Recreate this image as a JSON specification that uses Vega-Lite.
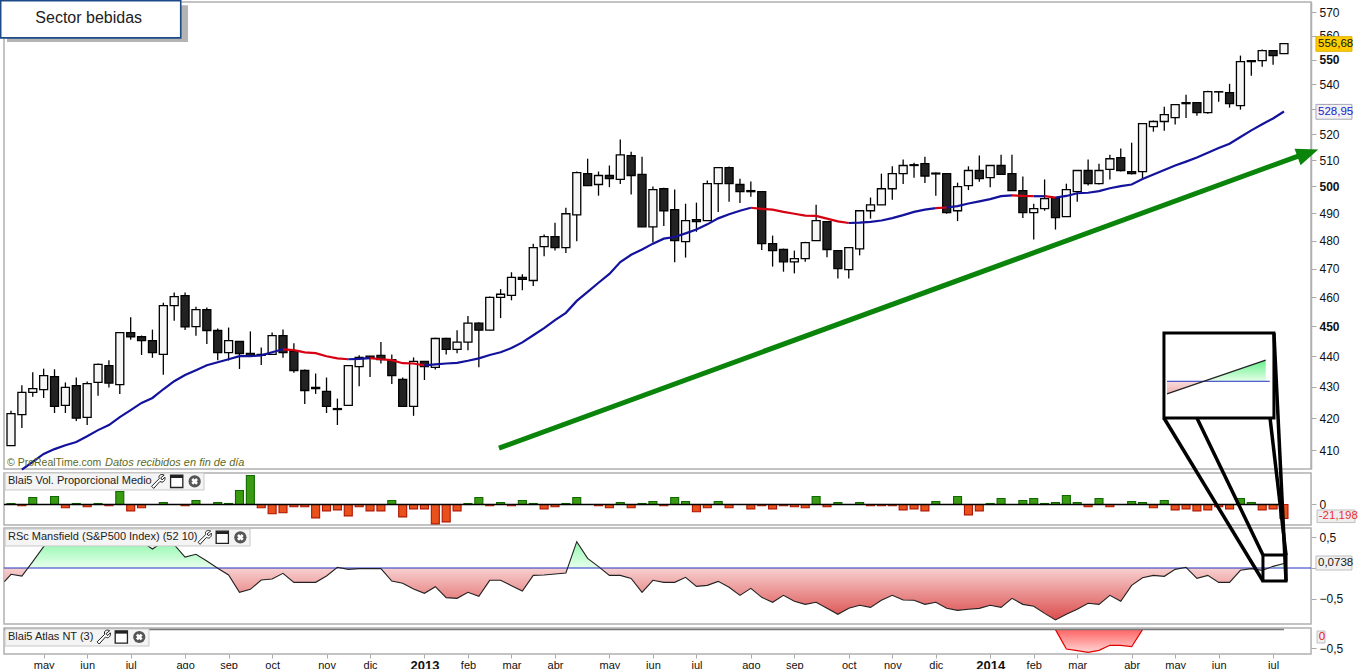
{"$schema":"https://vega.github.io/schema/vega-lite/v6.json","width":1359,"height":669,"padding":0,"autosize":"none","background":"white","config":{"font":"Liberation Sans","view":{"stroke":null}},
"datasets":{
"c":[{"i":0,"o":411.4,"h":422.3,"l":411.4,"c":421.4},{"i":1,"o":421.1,"h":430.5,"l":416.9,"c":428.2},{"i":2,"o":428.2,"h":434.7,"l":426.8,"c":429.4},{"i":3,"o":429.1,"h":435.9,"l":426.4,"c":433.6},{"i":4,"o":433.3,"h":435.7,"l":421.6,"c":423.7},{"i":5,"o":424,"h":431.4,"l":421.6,"c":429.8},{"i":6,"o":430.4,"h":433,"l":419.1,"c":420},{"i":7,"o":420.2,"h":431.7,"l":417.8,"c":431},{"i":8,"o":431.4,"h":437.6,"l":427.1,"c":437.3},{"i":9,"o":436.9,"h":438.7,"l":429.8,"c":431.2},{"i":10,"o":430.7,"h":447.9,"l":427.7,"c":447.9},{"i":11,"o":447.9,"h":453.1,"l":445.5,"c":446.5},{"i":12,"o":446.5,"h":446.9,"l":440.4,"c":445.2},{"i":13,"o":445.2,"h":448.9,"l":439.5,"c":441.2},{"i":14,"o":440.6,"h":458.1,"l":433.9,"c":457.1},{"i":15,"o":457.1,"h":461.6,"l":451.9,"c":460.2},{"i":16,"o":460.5,"h":461.6,"l":448.8,"c":449.8},{"i":17,"o":449.9,"h":456.7,"l":446.8,"c":455.7},{"i":18,"o":455.7,"h":456.4,"l":444.1,"c":448.6},{"i":19,"o":448.6,"h":449.3,"l":438.7,"c":441.2},{"i":20,"o":441.2,"h":449.6,"l":438.6,"c":445.2},{"i":21,"o":444.9,"h":444.9,"l":435.8,"c":440.9},{"i":22,"o":440.9,"h":448.3,"l":440.1,"c":440.1},{"i":23,"o":440.6,"h":442.9,"l":437.1,"c":440.3},{"i":24,"o":440.6,"h":447.9,"l":440.6,"c":446.9},{"i":25,"o":446.9,"h":448.9,"l":439.5,"c":441.2},{"i":26,"o":441.6,"h":444.3,"l":434.6,"c":435.3},{"i":27,"o":435.3,"h":435.6,"l":424.5,"c":428.8},{"i":28,"o":429.8,"h":434.3,"l":427.7,"c":429.4},{"i":29,"o":428.5,"h":433,"l":421.6,"c":423.7},{"i":30,"o":423,"h":426.2,"l":417.8,"c":422.7},{"i":31,"o":424,"h":436.9,"l":424,"c":436.9},{"i":32,"o":436.6,"h":440.3,"l":430.2,"c":439.6},{"i":33,"o":440,"h":440.1,"l":433.2,"c":439.3},{"i":34,"o":440.3,"h":444.7,"l":437.6,"c":438.9},{"i":35,"o":438.9,"h":440.6,"l":430.9,"c":433.6},{"i":36,"o":432.4,"h":433,"l":423.7,"c":423.7},{"i":37,"o":423.7,"h":439.6,"l":420.7,"c":438.3},{"i":38,"o":438.3,"h":438.3,"l":432.2,"c":436.6},{"i":39,"o":436.3,"h":446.2,"l":435.6,"c":445.9},{"i":40,"o":445.9,"h":446.2,"l":440.6,"c":442.3},{"i":41,"o":442.3,"h":448.7,"l":441,"c":444.7},{"i":42,"o":444.7,"h":453.5,"l":442,"c":451.1},{"i":43,"o":451.1,"h":451.4,"l":436.4,"c":448.7},{"i":44,"o":448.7,"h":460.2,"l":448.7,"c":459.9},{"i":45,"o":459.9,"h":462.8,"l":452.8,"c":461},{"i":46,"o":460.6,"h":468.7,"l":458.9,"c":466.9},{"i":47,"o":466.9,"h":468,"l":462.4,"c":466.2},{"i":48,"o":465.8,"h":478.9,"l":463.9,"c":477.5},{"i":49,"o":477.8,"h":482.2,"l":474.4,"c":481.4},{"i":50,"o":481.4,"h":486.5,"l":476.4,"c":477.5},{"i":51,"o":477.5,"h":492,"l":475.5,"c":489.8},{"i":52,"o":489.4,"h":505.6,"l":479.8,"c":505.2},{"i":53,"o":504.8,"h":510.5,"l":500.3,"c":500.3},{"i":54,"o":500.7,"h":505.6,"l":496.5,"c":504.1},{"i":55,"o":504.1,"h":507.9,"l":499.7,"c":502.9},{"i":56,"o":502.6,"h":517.9,"l":500.9,"c":512},{"i":57,"o":511.7,"h":513.2,"l":496.9,"c":504.1},{"i":58,"o":504.5,"h":511.3,"l":485,"c":485},{"i":59,"o":485,"h":499.9,"l":479.3,"c":498.8},{"i":60,"o":499.1,"h":499.5,"l":485.3,"c":490.9},{"i":61,"o":491.3,"h":498.8,"l":472.2,"c":480},{"i":62,"o":479.6,"h":493.5,"l":473.9,"c":487.3},{"i":63,"o":487.6,"h":493.9,"l":483.2,"c":486.9},{"i":64,"o":487.3,"h":502.2,"l":487.3,"c":501},{"i":65,"o":501,"h":507.1,"l":490.4,"c":507.1},{"i":66,"o":507.1,"h":507.5,"l":494.2,"c":501},{"i":67,"o":500.7,"h":502.9,"l":493.8,"c":498},{"i":68,"o":498.4,"h":501.8,"l":496.1,"c":498},{"i":69,"o":498,"h":498,"l":476.6,"c":478.9},{"i":70,"o":478.9,"h":481.8,"l":470.7,"c":476.4},{"i":71,"o":476.8,"h":477.1,"l":468.9,"c":472.4},{"i":72,"o":472.4,"h":476.4,"l":468.3,"c":473.5},{"i":73,"o":473.5,"h":479.6,"l":472.4,"c":479.3},{"i":74,"o":480,"h":493.1,"l":480,"c":487.3},{"i":75,"o":486.9,"h":486.9,"l":474,"c":476.8},{"i":76,"o":476.4,"h":476.4,"l":466.5,"c":470},{"i":77,"o":469.6,"h":477.5,"l":466.5,"c":477.5},{"i":78,"o":477,"h":490.9,"l":474.7,"c":490.9},{"i":79,"o":490.9,"h":495.8,"l":488,"c":493.1},{"i":80,"o":493.1,"h":504.8,"l":493.1,"c":499.1},{"i":81,"o":499.1,"h":507.6,"l":495,"c":504.8},{"i":82,"o":504.8,"h":510.2,"l":500.9,"c":507.9},{"i":83,"o":508.2,"h":509,"l":503.2,"c":507.9},{"i":84,"o":508.6,"h":511.3,"l":501.3,"c":503.9},{"i":85,"o":505,"h":505.2,"l":496.5,"c":504.7},{"i":86,"o":504.8,"h":504.9,"l":489.8,"c":490.2},{"i":87,"o":490.9,"h":501.4,"l":487.1,"c":499.9},{"i":88,"o":500.3,"h":507.6,"l":498.6,"c":506},{"i":89,"o":506,"h":511.7,"l":501.7,"c":502.9},{"i":90,"o":503.3,"h":507.9,"l":499.7,"c":507.9},{"i":91,"o":507.9,"h":512,"l":504.5,"c":504.5},{"i":92,"o":504.8,"h":512,"l":498.4,"c":498.4},{"i":93,"o":498.4,"h":503.7,"l":488.2,"c":490.2},{"i":94,"o":490.2,"h":493.5,"l":480.4,"c":491.7},{"i":95,"o":491.7,"h":502.6,"l":490.9,"c":495.4},{"i":96,"o":495.8,"h":495.8,"l":484,"c":488.4},{"i":97,"o":488.7,"h":501,"l":488.7,"c":498.8},{"i":98,"o":498,"h":506,"l":494.2,"c":506},{"i":99,"o":506,"h":510.2,"l":500.3,"c":501},{"i":100,"o":501,"h":508.6,"l":500.7,"c":506},{"i":101,"o":506.4,"h":512,"l":502.6,"c":510.5},{"i":102,"o":510.9,"h":514.4,"l":505.6,"c":506},{"i":103,"o":505.6,"h":516.7,"l":504.5,"c":504.8},{"i":104,"o":505.6,"h":524.2,"l":502.9,"c":524.2},{"i":105,"o":523,"h":525.4,"l":521,"c":525},{"i":106,"o":525,"h":530.9,"l":521.4,"c":527.7},{"i":107,"o":526.5,"h":531.7,"l":523.8,"c":531.7},{"i":108,"o":532.5,"h":535.7,"l":526.4,"c":532.1},{"i":109,"o":532.5,"h":532.5,"l":527.3,"c":528.5},{"i":110,"o":528.5,"h":537.3,"l":528.1,"c":536.9},{"i":111,"o":536.9,"h":536.9,"l":532.9,"c":536.8},{"i":112,"o":536.5,"h":540.1,"l":530.5,"c":532.1},{"i":113,"o":531.3,"h":551.7,"l":529.7,"c":549.2},{"i":114,"o":549.6,"h":549.6,"l":543.4,"c":549.2},{"i":115,"o":549.6,"h":554.2,"l":547.1,"c":553.8},{"i":116,"o":553.8,"h":553.8,"l":547.9,"c":551.7},{"i":117,"o":552.5,"h":556.68,"l":552.5,"c":556.68}],
"ma":[{"i":1,"v":404,"d":"u","s":0},{"i":2,"v":406.4,"d":"u","s":0},{"i":3,"v":408.8,"d":"u","s":0},{"i":4,"v":410.3,"d":"u","s":0},{"i":5,"v":411.5,"d":"u","s":0},{"i":6,"v":412.5,"d":"u","s":0},{"i":7,"v":414.3,"d":"u","s":0},{"i":8,"v":416.2,"d":"u","s":0},{"i":9,"v":417.8,"d":"u","s":0},{"i":10,"v":420.3,"d":"u","s":0},{"i":11,"v":422.5,"d":"u","s":0},{"i":12,"v":424.8,"d":"u","s":0},{"i":13,"v":426.4,"d":"u","s":0},{"i":14,"v":429.2,"d":"u","s":0},{"i":15,"v":431.8,"d":"u","s":0},{"i":16,"v":433.8,"d":"u","s":0},{"i":17,"v":435.4,"d":"u","s":0},{"i":18,"v":437,"d":"u","s":0},{"i":19,"v":438,"d":"u","s":0},{"i":20,"v":439,"d":"u","s":0},{"i":21,"v":440,"d":"u","s":0},{"i":22,"v":440,"d":"u","s":0},{"i":23,"v":440.3,"d":"u","s":0},{"i":24,"v":441.3,"d":"u","s":0},{"i":25,"v":442.3,"d":"u","s":0},
{"i":25,"v":442.3,"d":"d","s":1},{"i":26,"v":442,"d":"d","s":1},{"i":27,"v":441.3,"d":"d","s":1},{"i":28,"v":441,"d":"d","s":1},{"i":29,"v":440,"d":"d","s":1},{"i":30,"v":439.3,"d":"d","s":1},{"i":31,"v":439,"d":"d","s":1},
{"i":31,"v":439,"d":"u","s":2},{"i":32,"v":439.1,"d":"u","s":2},{"i":33,"v":439.4,"d":"u","s":2},
{"i":33,"v":439.4,"d":"d","s":3},{"i":34,"v":439,"d":"d","s":3},{"i":35,"v":438.7,"d":"d","s":3},{"i":36,"v":437.7,"d":"d","s":3},{"i":37,"v":437.6,"d":"d","s":3},{"i":38,"v":437,"d":"d","s":3},
{"i":38,"v":437,"d":"u","s":4},{"i":39,"v":437.3,"d":"u","s":4},{"i":40,"v":437.6,"d":"u","s":4},{"i":41,"v":437.8,"d":"u","s":4},{"i":42,"v":438.5,"d":"u","s":4},{"i":43,"v":439.3,"d":"u","s":4},{"i":44,"v":440.4,"d":"u","s":4},{"i":45,"v":441.3,"d":"u","s":4},{"i":46,"v":442.7,"d":"u","s":4},{"i":47,"v":444.6,"d":"u","s":4},{"i":48,"v":447,"d":"u","s":4},{"i":49,"v":449.4,"d":"u","s":4},{"i":50,"v":452.1,"d":"u","s":4},{"i":51,"v":454.6,"d":"u","s":4},{"i":52,"v":458.7,"d":"u","s":4},{"i":53,"v":461.8,"d":"u","s":4},{"i":54,"v":465,"d":"u","s":4},{"i":55,"v":468.1,"d":"u","s":4},{"i":56,"v":472.3,"d":"u","s":4},{"i":57,"v":474.9,"d":"u","s":4},{"i":58,"v":476.8,"d":"u","s":4},{"i":59,"v":478.9,"d":"u","s":4},{"i":60,"v":480.7,"d":"u","s":4},{"i":61,"v":481.3,"d":"u","s":4},{"i":62,"v":482.6,"d":"u","s":4},{"i":63,"v":484,"d":"u","s":4},{"i":64,"v":485.9,"d":"u","s":4},{"i":65,"v":488.1,"d":"u","s":4},{"i":66,"v":489.6,"d":"u","s":4},{"i":67,"v":490.9,"d":"u","s":4},{"i":68,"v":492,"d":"u","s":4},
{"i":68,"v":492,"d":"d","s":5},{"i":69,"v":491.6,"d":"d","s":5},{"i":70,"v":491.3,"d":"d","s":5},{"i":71,"v":490.5,"d":"d","s":5},{"i":72,"v":489.8,"d":"d","s":5},{"i":73,"v":489.1,"d":"d","s":5},{"i":74,"v":489,"d":"d","s":5},{"i":75,"v":488,"d":"d","s":5},{"i":76,"v":487,"d":"d","s":5},{"i":77,"v":486.4,"d":"d","s":5},
{"i":77,"v":486.4,"d":"u","s":6},{"i":78,"v":486.5,"d":"u","s":6},{"i":79,"v":486.8,"d":"u","s":6},{"i":80,"v":487.3,"d":"u","s":6},{"i":81,"v":488.2,"d":"u","s":6},{"i":82,"v":489.3,"d":"u","s":6},{"i":83,"v":490.5,"d":"u","s":6},{"i":84,"v":491.3,"d":"u","s":6},{"i":85,"v":491.9,"d":"u","s":6},
{"i":85,"v":491.9,"d":"d","s":7},{"i":86,"v":492.1,"d":"d","s":7},
{"i":86,"v":492.1,"d":"u","s":8},{"i":87,"v":492.6,"d":"u","s":8},{"i":88,"v":493.6,"d":"u","s":8},{"i":89,"v":494.4,"d":"u","s":8},{"i":90,"v":495.2,"d":"u","s":8},{"i":91,"v":496.3,"d":"u","s":8},{"i":92,"v":496.6,"d":"u","s":8},
{"i":92,"v":496.6,"d":"d","s":9},{"i":93,"v":496.4,"d":"d","s":9},{"i":94,"v":496.3,"d":"d","s":9},
{"i":94,"v":496.3,"d":"u","s":10},{"i":95,"v":496.3,"d":"u","s":10},
{"i":95,"v":496.3,"d":"d","s":11},{"i":96,"v":495.8,"d":"d","s":11},
{"i":96,"v":495.8,"d":"u","s":12},{"i":97,"v":496.4,"d":"u","s":12},{"i":98,"v":497.4,"d":"u","s":12},{"i":99,"v":497.6,"d":"u","s":12},{"i":100,"v":498.2,"d":"u","s":12},{"i":101,"v":499.3,"d":"u","s":12},{"i":102,"v":500.1,"d":"u","s":12},{"i":103,"v":500.7,"d":"u","s":12},{"i":104,"v":502.8,"d":"u","s":12},{"i":105,"v":504.5,"d":"u","s":12},{"i":106,"v":506.2,"d":"u","s":12},{"i":107,"v":507.9,"d":"u","s":12},{"i":108,"v":509.4,"d":"u","s":12},{"i":109,"v":511,"d":"u","s":12},{"i":110,"v":512.8,"d":"u","s":12},{"i":111,"v":514.6,"d":"u","s":12},{"i":112,"v":516.3,"d":"u","s":12},{"i":113,"v":518.9,"d":"u","s":12},{"i":114,"v":521.5,"d":"u","s":12},{"i":115,"v":523.9,"d":"u","s":12},{"i":116,"v":526.2,"d":"u","s":12},{"i":117,"v":528.95,"d":"u","s":12}],
"vol":[{"i":0,"v":1.5},{"i":1,"v":-2},{"i":2,"v":10.6},{"i":4,"v":12.1},{"i":5,"v":-5},{"i":6,"v":1.5},{"i":7,"v":-3.5},{"i":8,"v":1.5},{"i":9,"v":-2},{"i":10,"v":19.7},{"i":11,"v":-9.6},{"i":12,"v":-5},{"i":14,"v":3},{"i":16,"v":-2},{"i":17,"v":6},{"i":19,"v":3},{"i":20,"v":1.5},{"i":21,"v":21.2},{"i":22,"v":44},{"i":23,"v":-5},{"i":24,"v":-14.1},{"i":25,"v":-12.6},{"i":26,"v":-3.5},{"i":27,"v":-3.5},{"i":28,"v":-20.2},{"i":29,"v":-9.6},{"i":30,"v":-8.1},{"i":31,"v":-17.2},{"i":32,"v":-3.5},{"i":33,"v":-9.6},{"i":34,"v":-9.6},{"i":35,"v":6},{"i":36,"v":-18.7},{"i":37,"v":-6.6},{"i":38,"v":-6.6},{"i":39,"v":-29.3},{"i":40,"v":-26.3},{"i":41,"v":-9.6},{"i":42,"v":1.5},{"i":43,"v":10.6},{"i":44,"v":-2},{"i":45,"v":3},{"i":46,"v":-2},{"i":47,"v":6},{"i":48,"v":1.5},{"i":49,"v":-6.6},{"i":50,"v":-3.5},{"i":51,"v":1.5},{"i":52,"v":10.6},{"i":54,"v":-2},{"i":55,"v":-5},{"i":56,"v":3},{"i":57,"v":-5},{"i":58,"v":1.5},{"i":59,"v":4.5},{"i":60,"v":-2},{"i":61,"v":10.6},{"i":62,"v":4.5},{"i":63,"v":-11.1},{"i":64,"v":-5},{"i":65,"v":4.5},{"i":66,"v":-5},{"i":68,"v":-6.6},{"i":69,"v":-2},{"i":70,"v":-6.6},{"i":71,"v":-2},{"i":72,"v":-3.5},{"i":73,"v":-5},{"i":74,"v":12.1},{"i":75,"v":-3.5},{"i":76,"v":3},{"i":78,"v":3},{"i":79,"v":-2},{"i":80,"v":-2},{"i":81,"v":-2},{"i":82,"v":-8.1},{"i":83,"v":-6.6},{"i":84,"v":-9.6},{"i":85,"v":4.5},{"i":87,"v":12.1},{"i":88,"v":-15.7},{"i":89,"v":-9.6},{"i":90,"v":1.5},{"i":91,"v":9.1},{"i":93,"v":6},{"i":94,"v":9.1},{"i":95,"v":1.5},{"i":96,"v":3},{"i":97,"v":13.6},{"i":98,"v":3},{"i":99,"v":-3.5},{"i":100,"v":9.1},{"i":101,"v":-3.5},{"i":103,"v":4.5},{"i":104,"v":3},{"i":105,"v":-5},{"i":106,"v":6},{"i":107,"v":-8.1},{"i":108,"v":-6.6},{"i":109,"v":-9.6},{"i":110,"v":-8.1},{"i":111,"v":-3.5},{"i":112,"v":-6.6},{"i":113,"v":9.1},{"i":114,"v":3},{"i":115,"v":-8.1},{"i":116,"v":-6.6},{"i":117,"v":-21.198}],
"rs":[{"i":-0.6,"v":-0.223},{"i":0,"v":-0.103},{"i":1,"v":-0.131},{"i":2,"v":0.103},{"i":3,"v":0.348},{"i":4,"v":0.55},{"i":5,"v":0.6},{"i":6,"v":0.6},{"i":7,"v":0.62},{"i":8,"v":0.58},{"i":9,"v":0.6},{"i":10,"v":0.62},{"i":11,"v":0.58},{"i":12,"v":0.43},{"i":13,"v":0.31},{"i":14,"v":0.43},{"i":15,"v":0.38},{"i":16,"v":0.179},{"i":17,"v":0.223},{"i":18,"v":0.114},{"i":19,"v":-0.005},{"i":20,"v":-0.114},{"i":21,"v":-0.397},{"i":22,"v":-0.348},{"i":23,"v":-0.196},{"i":24,"v":-0.179},{"i":25,"v":-0.087},{"i":26,"v":-0.234},{"i":27,"v":-0.234},{"i":28,"v":-0.234},{"i":29,"v":-0.131},{"i":30,"v":0.011},{"i":31,"v":-0.022},{"i":32,"v":-0.011},{"i":33,"v":-0.011},{"i":34,"v":-0.011},{"i":35,"v":-0.212},{"i":36,"v":-0.25},{"i":37,"v":-0.343},{"i":38,"v":-0.413},{"i":39,"v":-0.305},{"i":40,"v":-0.484},{"i":41,"v":-0.495},{"i":42,"v":-0.397},{"i":43,"v":-0.462},{"i":44,"v":-0.201},{"i":45,"v":-0.201},{"i":46,"v":-0.288},{"i":47,"v":-0.375},{"i":48,"v":-0.12},{"i":49,"v":-0.114},{"i":50,"v":-0.098},{"i":51,"v":-0.082},{"i":52,"v":0.43},{"i":53,"v":0.158},{"i":54,"v":0.022},{"i":55,"v":-0.12},{"i":56,"v":-0.12},{"i":57,"v":-0.169},{"i":58,"v":-0.397},{"i":59,"v":-0.201},{"i":60,"v":-0.234},{"i":61,"v":-0.234},{"i":62,"v":-0.152},{"i":63,"v":-0.299},{"i":64,"v":-0.283},{"i":65,"v":-0.218},{"i":66,"v":-0.315},{"i":67,"v":-0.446},{"i":68,"v":-0.332},{"i":69,"v":-0.479},{"i":70,"v":-0.56},{"i":71,"v":-0.446},{"i":72,"v":-0.544},{"i":73,"v":-0.593},{"i":74,"v":-0.56},{"i":75,"v":-0.658},{"i":76,"v":-0.756},{"i":77,"v":-0.658},{"i":78,"v":-0.609},{"i":79,"v":-0.642},{"i":80,"v":-0.527},{"i":81,"v":-0.446},{"i":82,"v":-0.522},{"i":83,"v":-0.527},{"i":84,"v":-0.593},{"i":85,"v":-0.56},{"i":86,"v":-0.658},{"i":87,"v":-0.691},{"i":88,"v":-0.674},{"i":89,"v":-0.658},{"i":90,"v":-0.609},{"i":91,"v":-0.642},{"i":92,"v":-0.495},{"i":93,"v":-0.593},{"i":94,"v":-0.625},{"i":95,"v":-0.74},{"i":96,"v":-0.848},{"i":97,"v":-0.756},{"i":98,"v":-0.674},{"i":99,"v":-0.576},{"i":100,"v":-0.593},{"i":101,"v":-0.446},{"i":102,"v":-0.544},{"i":103,"v":-0.283},{"i":104,"v":-0.158},{"i":105,"v":-0.12},{"i":106,"v":-0.136},{"i":107,"v":-0.022},{"i":108,"v":0.011},{"i":109,"v":-0.169},{"i":110,"v":-0.12},{"i":111,"v":-0.234},{"i":112,"v":-0.234},{"i":113,"v":-0.038},{"i":114,"v":-0.011},{"i":115,"v":-0.038},{"i":116,"v":0.027},{"i":117,"v":0.0738}],
"atlas":[{"i":96,"v":0},{"i":97,"v":-0.524},{"i":98,"v":-0.57},{"i":99,"v":-0.613},{"i":100,"v":-0.56},{"i":101,"v":-0.424},{"i":102,"v":-0.424},{"i":103,"v":-0.462},{"i":104,"v":0}]
},
"layer":[
{"layer":[
{"data":{"values":[{"a":-0.643,"b":119.49,"p":404.2,"q":574.4}]},"mark":{"type":"rect","fillOpacity":0,"stroke":"#b0b0b0","strokeWidth":1.5},"encoding":{"x":{"field":"a","type":"quantitative","scale":{"domain":[-1.011,123.897],"nice":false,"zero":false,"padding":0},"axis":{"values":[3,7,11,16,20,24,29,33,38,42,46,50,55,59,63,68,72,77,81,85,90,94,98,103,107,111,116],"labelExpr":"{3:'may',7:'jun',11:'jul',16:'ago',20:'sep',24:'oct',29:'nov',33:'dic',38:'2013',42:'feb',46:'mar',50:'abr',55:'may',59:'jun',63:'jul',68:'ago',72:'sep',77:'oct',81:'nov',85:'dic',90:'2014',94:'feb',98:'mar',103:'abr',107:'may',111:'jun',116:'jul'}[datum.value]","labelFontWeight":{"condition":{"test":"datum.value==38||datum.value==90","value":"bold"},"value":"normal"},"labelFontSize":{"condition":{"test":"datum.value==38||datum.value==90","value":13},"value":11},"orient":"bottom","offset":-15,"domain":false,"grid":false,"title":null,"tickColor":"#aaaaaa","tickSize":4,"labelPadding":1,"labelColor":"#111111","labelOverlap":false,"labelFlush":false}},"x2":{"field":"b"},"y":{"field":"p","type":"quantitative","scale":{"type":"log","domain":[404.2,574.4],"range":[469,2],"nice":false,"zero":false},"axis":{"orient":"right","offset":-48,"values":[410,420,430,440,450,460,470,480,490,500,510,520,530,540,550,560,570],"title":null,"grid":false,"domainColor":"#b0b0b0","domainWidth":1.5,"tickColor":"#aaaaaa","tickSize":5,"labelPadding":3,"labelFontSize":12,"labelColor":"#111111","labelOverlap":false,"labelFlush":false,"format":"d","labelFontWeight":{"condition":{"test":"datum.value==450||datum.value==500||datum.value==550","value":"bold"},"value":"normal"}}},"y2":{"field":"q"}}},
{"data":{"name":"c"},"mark":{"type":"rule","color":"#000000","strokeWidth":1.3},"encoding":{"x":{"field":"i","type":"quantitative"},"y":{"field":"l","type":"quantitative","scale":{"type":"log"}},"y2":{"field":"h"}}},
{"data":{"name":"c"},"mark":{"type":"bar","size":8,"stroke":"#000000","strokeWidth":1.3},"encoding":{"x":{"field":"i","type":"quantitative"},"y":{"field":"o","type":"quantitative","scale":{"type":"log"}},"y2":{"field":"c"},"fill":{"condition":{"test":"datum.c>datum.o","value":"#f6f6f6"},"value":"#222222"}}},
{"data":{"name":"ma"},"mark":{"type":"line","strokeWidth":2.2,"clip":false},"encoding":{"x":{"field":"i","type":"quantitative"},"y":{"field":"v","type":"quantitative","scale":{"type":"log"}},"detail":{"field":"s"},"order":{"field":"i"},"color":{"field":"d","type":"nominal","scale":{"domain":["u","d"],"range":["#12129c","#d60012"]},"legend":null}}},
{"data":{"values":[{"a":44.85,"p":410.6,"b":118.5,"q":511.8}]},"mark":{"type":"rule","color":"#0a840a","strokeWidth":5},"encoding":{"x":{"field":"a","type":"quantitative"},"y":{"field":"p","type":"quantitative","scale":{"type":"log"}},"x2":{"field":"b"},"y2":{"field":"q"}}},
{"data":{"values":[{"i":119.2,"v":512.6}]},"mark":{"type":"point","shape":"M0,-1L0.8,1L-0.8,1Z","size":484,"angle":70,"filled":true,"fill":"#0a840a","opacity":1},"encoding":{"x":{"field":"i","type":"quantitative"},"y":{"field":"v","type":"quantitative","scale":{"type":"log"}}}},
{"data":{"values":[{"i":-0.37,"v":406,"t":"© ProRealTime.com"}]},"mark":{"type":"text","align":"left","baseline":"middle","fontSize":10.5,"fill":"#5c6a1c"},"encoding":{"x":{"field":"i","type":"quantitative"},"y":{"field":"v","type":"quantitative","scale":{"type":"log"}},"text":{"field":"t"}}},
{"data":{"values":[{"i":8.64,"v":406,"t":"Datos recibidos en fin de día"}]},"mark":{"type":"text","align":"left","baseline":"middle","fontSize":11,"fontStyle":"italic","fill":"#5c6a1c"},"encoding":{"x":{"field":"i","type":"quantitative"},"y":{"field":"v","type":"quantitative","scale":{"type":"log"}},"text":{"field":"t"}}},
{"data":{"values":[{"a":-0.37,"b":16.27,"p":557.4,"q":573}]},"mark":{"type":"rect","fill":"#777777","opacity":0.55},"encoding":{"x":{"field":"a","type":"quantitative"},"x2":{"field":"b"},"y":{"field":"p","type":"quantitative","scale":{"type":"log"}},"y2":{"field":"q"}}},
{"data":{"values":[{"a":-0.95,"b":15.6,"p":559.1,"q":575}]},"mark":{"type":"rect","fill":"#ffffff","stroke":"#1c4a86","strokeWidth":1.6},"encoding":{"x":{"field":"a","type":"quantitative"},"x2":{"field":"b"},"y":{"field":"p","type":"quantitative","scale":{"type":"log"}},"y2":{"field":"q"}}},
{"data":{"values":[{"i":7.14,"v":567.4,"t":"Sector bebidas"}]},"mark":{"type":"text","align":"center","baseline":"middle","fontSize":16,"fill":"#222222"},"encoding":{"x":{"field":"i","type":"quantitative"},"y":{"field":"v","type":"quantitative","scale":{"type":"log"}},"text":{"field":"t"}}},
{"data":{"values":[{"a":119.94,"b":123.25,"p":553.5,"q":559.6}]},"mark":{"type":"rect","fill":"#ffcc00","stroke":"#e0b000"},"encoding":{"x":{"field":"a","type":"quantitative"},"x2":{"field":"b"},"y":{"field":"p","type":"quantitative","scale":{"type":"log"}},"y2":{"field":"q"}}},
{"data":{"values":[{"i":120.13,"v":556.68,"t":"556,68"}]},"mark":{"type":"text","align":"left","baseline":"middle","fontSize":11.5,"fill":"#111111"},"encoding":{"x":{"field":"i","type":"quantitative"},"y":{"field":"v","type":"quantitative","scale":{"type":"log"}},"text":{"field":"t"}}},
{"data":{"values":[{"a":119.94,"b":123.25,"p":525.9,"q":531.8}]},"mark":{"type":"rect","fill":"#f2f2f2","stroke":"#a8a8b8"},"encoding":{"x":{"field":"a","type":"quantitative"},"x2":{"field":"b"},"y":{"field":"p","type":"quantitative","scale":{"type":"log"}},"y2":{"field":"q"}}},
{"data":{"values":[{"i":120.13,"v":528.95,"t":"528,95"}]},"mark":{"type":"text","align":"left","baseline":"middle","fontSize":11.5,"fill":"#2222cc"},"encoding":{"x":{"field":"i","type":"quantitative"},"y":{"field":"v","type":"quantitative","scale":{"type":"log"}},"text":{"field":"t"}}}
]},
{"layer":[
{"data":{"values":[{"a":-0.643,"b":119.49,"p":-31.06,"q":47.7}]},"mark":{"type":"rect","fillOpacity":0,"stroke":"#b0b0b0","strokeWidth":1.5},"encoding":{"x":{"field":"a","type":"quantitative"},"x2":{"field":"b"},"y":{"field":"p","type":"quantitative","scale":{"domain":[-31.06,47.7],"range":[525,473],"nice":false,"zero":false},"axis":{"orient":"right","offset":-48,"values":[0],"title":null,"grid":false,"domain":false,"tickColor":"#aaaaaa","tickSize":5,"labelPadding":3,"labelFontSize":12,"labelColor":"#111111","labelFlush":false}},"y2":{"field":"q"}}},
{"data":{"name":"vol"},"mark":{"type":"bar","size":8,"strokeWidth":1.1},"encoding":{"x":{"field":"i","type":"quantitative"},"y":{"field":"v","type":"quantitative"},"y2":{"datum":0},"fill":{"condition":{"test":"datum.v>0","value":"#3a9a12"},"value":"#e8501c"},"stroke":{"condition":{"test":"datum.v>0","value":"#0e6a00"},"value":"#b01400"}}},
{"data":{"values":[{"a":-0.643,"b":117}]},"mark":{"type":"rule","color":"#000000","strokeWidth":1.4},"encoding":{"x":{"field":"a","type":"quantitative"},"x2":{"field":"b"},"y":{"datum":0,"type":"quantitative"}}},
{"data":{"values":[{"a":-0.55,"b":17.74,"p":22,"q":47.7}]},"mark":{"type":"rect","fill":"#f4f4f4","stroke":"#c8c8c8"},"encoding":{"x":{"field":"a","type":"quantitative"},"x2":{"field":"b"},"y":{"field":"p","type":"quantitative"},"y2":{"field":"q"}}},
{"data":{"values":[{"i":-0.276,"v":35,"t":"Blai5 Vol. Proporcional Medio"}]},"mark":{"type":"text","align":"left","baseline":"middle","fontSize":11,"fill":"#222222"},"encoding":{"x":{"field":"i","type":"quantitative"},"y":{"field":"v","type":"quantitative"},"text":{"field":"t"}}},
{"data":{"values":[{"i":13.5,"v":35}]},"mark":{"type":"point","shape":"M-0.9,0.7L0.2,-0.4C0,-0.9 0.5,-1.1 0.9,-0.9L0.4,-0.5L0.6,-0.2L1,-0.6C1.1,-0.1 0.7,0.3 0.3,0L-0.6,1Z","size":196,"filled":true,"fill":"#ffffff","stroke":"#222222","strokeWidth":1,"opacity":1},"encoding":{"x":{"field":"i","type":"quantitative"},"y":{"field":"v","type":"quantitative"}}},
{"data":{"values":[{"i":15.23,"v":35}]},"mark":{"type":"point","shape":"square","size":150,"filled":true,"fill":"#ffffff","stroke":"#222222","strokeWidth":1.3,"opacity":1},"encoding":{"x":{"field":"i","type":"quantitative"},"y":{"field":"v","type":"quantitative"}}},
{"data":{"values":[{"i":15.23,"v":35}]},"mark":{"type":"point","shape":"M-1,-1H1V-0.55H-1Z","size":150,"filled":true,"fill":"#222222","opacity":1},"encoding":{"x":{"field":"i","type":"quantitative"},"y":{"field":"v","type":"quantitative"}}},
{"data":{"values":[{"i":16.88,"v":35}]},"mark":{"type":"point","shape":"circle","size":150,"filled":true,"fill":"#555555","opacity":1},"encoding":{"x":{"field":"i","type":"quantitative"},"y":{"field":"v","type":"quantitative"}}},
{"data":{"values":[{"i":16.88,"v":35}]},"mark":{"type":"point","shape":"cross","size":45,"angle":45,"filled":true,"fill":"#ffffff","opacity":1},"encoding":{"x":{"field":"i","type":"quantitative"},"y":{"field":"v","type":"quantitative"}}},
{"data":{"values":[{"a":120.04,"b":123.53,"p":-27.4,"q":-8.3}]},"mark":{"type":"rect","fill":"#eeeeee","stroke":"#c0c0c0"},"encoding":{"x":{"field":"a","type":"quantitative"},"x2":{"field":"b"},"y":{"field":"p","type":"quantitative"},"y2":{"field":"q"}}},
{"data":{"values":[{"i":120.2,"v":-17.4,"t":"-21,198"}]},"mark":{"type":"text","align":"left","baseline":"middle","fontSize":11.5,"fill":"#ee3030"},"encoding":{"x":{"field":"i","type":"quantitative"},"y":{"field":"v","type":"quantitative"},"text":{"field":"t"}}}
]},
{"layer":[
{"data":{"values":[{"a":-0.643,"b":119.49,"p":-0.9135,"q":0.6525}]},"mark":{"type":"rect","fillOpacity":0,"stroke":"#b0b0b0","strokeWidth":1.5},"encoding":{"x":{"field":"a","type":"quantitative"},"x2":{"field":"b"},"y":{"field":"p","type":"quantitative","scale":{"domain":[-0.9135,0.6525],"range":[624,528],"nice":false,"zero":false},"axis":{"orient":"right","offset":-48,"values":[0.5,0,-0.5],"labelExpr":"datum.value==0?'':replace(format(datum.value,'.1f'),'.',',')","title":null,"grid":false,"domain":false,"tickColor":"#aaaaaa","tickSize":5,"labelPadding":3,"labelFontSize":12,"labelColor":"#111111","labelFlush":false}},"y2":{"field":"q"}}},
{"data":{"name":"rs"},"mark":{"type":"area","fill":{"gradient":"linear","x1":0,"y1":0,"x2":0,"y2":1,"stops":[{"offset":0,"color":"#6cf593"},{"offset":0.4223,"color":"#e8ffec"},{"offset":0.4223,"color":"#f8d0d0"},{"offset":1,"color":"#dc4c4c"}]}},"encoding":{"x":{"field":"i","type":"quantitative"},"y":{"field":"v","type":"quantitative"},"y2":{"datum":0}}},
{"data":{"values":[{"a":-0.643,"b":119.49}]},"mark":{"type":"rule","color":"#2030c0","strokeWidth":1},"encoding":{"x":{"field":"a","type":"quantitative"},"x2":{"field":"b"},"y":{"datum":0,"type":"quantitative"}}},
{"data":{"name":"rs"},"mark":{"type":"line","color":"#222222","strokeWidth":1.1},"encoding":{"x":{"field":"i","type":"quantitative"},"y":{"field":"v","type":"quantitative"}}},
{"data":{"values":[{"a":-0.55,"b":21.97,"p":0.359,"q":0.636}]},"mark":{"type":"rect","fill":"#f4f4f4","stroke":"#c8c8c8"},"encoding":{"x":{"field":"a","type":"quantitative"},"x2":{"field":"b"},"y":{"field":"p","type":"quantitative"},"y2":{"field":"q"}}},
{"data":{"values":[{"i":-0.276,"v":0.5,"t":"RSc Mansfield (S&P500 Index) (52 10)"}]},"mark":{"type":"text","align":"left","baseline":"middle","fontSize":11,"fill":"#222222"},"encoding":{"x":{"field":"i","type":"quantitative"},"y":{"field":"v","type":"quantitative"},"text":{"field":"t"}}},
{"data":{"values":[{"i":17.77,"v":0.5}]},"mark":{"type":"point","shape":"M-0.9,0.7L0.2,-0.4C0,-0.9 0.5,-1.1 0.9,-0.9L0.4,-0.5L0.6,-0.2L1,-0.6C1.1,-0.1 0.7,0.3 0.3,0L-0.6,1Z","size":196,"filled":true,"fill":"#ffffff","stroke":"#222222","strokeWidth":1,"opacity":1},"encoding":{"x":{"field":"i","type":"quantitative"},"y":{"field":"v","type":"quantitative"}}},
{"data":{"values":[{"i":19.42,"v":0.5}]},"mark":{"type":"point","shape":"square","size":150,"filled":true,"fill":"#ffffff","stroke":"#222222","strokeWidth":1.3,"opacity":1},"encoding":{"x":{"field":"i","type":"quantitative"},"y":{"field":"v","type":"quantitative"}}},
{"data":{"values":[{"i":19.42,"v":0.5}]},"mark":{"type":"point","shape":"M-1,-1H1V-0.55H-1Z","size":150,"filled":true,"fill":"#222222","opacity":1},"encoding":{"x":{"field":"i","type":"quantitative"},"y":{"field":"v","type":"quantitative"}}},
{"data":{"values":[{"i":21.08,"v":0.5}]},"mark":{"type":"point","shape":"circle","size":150,"filled":true,"fill":"#555555","opacity":1},"encoding":{"x":{"field":"i","type":"quantitative"},"y":{"field":"v","type":"quantitative"}}},
{"data":{"values":[{"i":21.08,"v":0.5}]},"mark":{"type":"point","shape":"cross","size":45,"angle":45,"filled":true,"fill":"#ffffff","opacity":1},"encoding":{"x":{"field":"i","type":"quantitative"},"y":{"field":"v","type":"quantitative"}}},
{"data":{"values":[{"a":119.94,"b":123.25,"p":-0.033,"q":0.196}]},"mark":{"type":"rect","fill":"#f0f0f0","stroke":"#c0c0c0"},"encoding":{"x":{"field":"a","type":"quantitative"},"x2":{"field":"b"},"y":{"field":"p","type":"quantitative"},"y2":{"field":"q"}}},
{"data":{"values":[{"i":120.13,"v":0.08,"t":"0,0738"}]},"mark":{"type":"text","align":"left","baseline":"middle","fontSize":11.5,"fill":"#222222"},"encoding":{"x":{"field":"i","type":"quantitative"},"y":{"field":"v","type":"quantitative"},"text":{"field":"t"}}},
{"data":{"values":[{"a":105.97,"p":2.447,"b":115.07,"q":-0.212},{"a":109,"p":2.447,"b":115.07,"q":0.212},{"a":116.08,"p":3.834,"b":117.19,"q":-0.212},{"a":115.72,"p":2.447,"b":117.19,"q":0.212}]},"mark":{"type":"rule","color":"#000000","strokeWidth":3.5},"encoding":{"x":{"field":"a","type":"quantitative"},"x2":{"field":"b"},"y":{"field":"p","type":"quantitative"},"y2":{"field":"q"}}},
{"data":{"values":[{"a":115.07,"b":117.19,"p":-0.212,"q":0.212},{"a":105.97,"b":116.08,"p":2.447,"q":3.834}]},"mark":{"type":"rect","fillOpacity":0,"stroke":"#000000","strokeWidth":3},"encoding":{"x":{"field":"a","type":"quantitative"},"x2":{"field":"b"},"y":{"field":"p","type":"quantitative"},"y2":{"field":"q"}}},
{"data":{"values":[{"i":106.25,"v":2.84},{"i":115.32,"v":3.39}]},"mark":{"type":"area","fill":{"gradient":"linear","x1":0,"y1":0,"x2":0,"y2":1,"stops":[{"offset":0,"color":"#66f08a"},{"offset":0.625,"color":"#e6ffe9"},{"offset":0.625,"color":"#f8dcdc"},{"offset":1,"color":"#eeb0b0"}]}},"encoding":{"x":{"field":"i","type":"quantitative"},"y":{"field":"v","type":"quantitative"},"y2":{"datum":3.046}}},
{"data":{"values":[{"a":106.25,"b":115.7}]},"mark":{"type":"rule","color":"#2030c0","strokeWidth":1},"encoding":{"x":{"field":"a","type":"quantitative"},"x2":{"field":"b"},"y":{"datum":3.046,"type":"quantitative"}}},
{"data":{"values":[{"i":106.25,"v":2.84},{"i":115.32,"v":3.39}]},"mark":{"type":"line","color":"#222222","strokeWidth":1.2},"encoding":{"x":{"field":"i","type":"quantitative"},"y":{"field":"v","type":"quantitative"}}}
]},
{"layer":[
{"data":{"values":[{"a":-0.643,"b":119.49,"p":-0.659,"q":0.043}]},"mark":{"type":"rect","fillOpacity":0,"stroke":"#b0b0b0","strokeWidth":1.5},"encoding":{"x":{"field":"a","type":"quantitative"},"x2":{"field":"b"},"y":{"field":"p","type":"quantitative","scale":{"domain":[-0.659,0.043],"range":[654,628],"nice":false,"zero":false},"axis":{"orient":"right","offset":-48,"values":[-0.5],"labelExpr":"replace(format(datum.value,'.1f'),'.',',')","title":null,"grid":false,"domain":false,"tickColor":"#aaaaaa","tickSize":5,"labelPadding":3,"labelFontSize":12,"labelColor":"#111111","labelFlush":false}},"y2":{"field":"q"}}},
{"data":{"name":"atlas"},"mark":{"type":"area","fill":{"gradient":"linear","x1":0,"y1":0,"x2":0,"y2":1,"stops":[{"offset":0,"color":"#ff6464"},{"offset":1,"color":"#ffd4d4"}]}},"encoding":{"x":{"field":"i","type":"quantitative"},"y":{"field":"v","type":"quantitative"},"y2":{"datum":0}}},
{"data":{"name":"atlas"},"mark":{"type":"line","color":"#e00000","strokeWidth":1.2},"encoding":{"x":{"field":"i","type":"quantitative"},"y":{"field":"v","type":"quantitative"}}},
{"data":{"values":[{"a":-0.643,"b":117}]},"mark":{"type":"rule","color":"#777777","strokeWidth":1.5},"encoding":{"x":{"field":"a","type":"quantitative"},"x2":{"field":"b"},"y":{"datum":0,"type":"quantitative"}}},
{"data":{"values":[{"a":-0.55,"b":12.68,"p":-0.443,"q":0.016}]},"mark":{"type":"rect","fill":"#f4f4f4","stroke":"#c8c8c8"},"encoding":{"x":{"field":"a","type":"quantitative"},"x2":{"field":"b"},"y":{"field":"p","type":"quantitative"},"y2":{"field":"q"}}},
{"data":{"values":[{"i":-0.276,"v":-0.2,"t":"Blai5 Atlas NT (3)"}]},"mark":{"type":"text","align":"left","baseline":"middle","fontSize":11,"fill":"#222222"},"encoding":{"x":{"field":"i","type":"quantitative"},"y":{"field":"v","type":"quantitative"},"text":{"field":"t"}}},
{"data":{"values":[{"i":8.49,"v":-0.2}]},"mark":{"type":"point","shape":"M-0.9,0.7L0.2,-0.4C0,-0.9 0.5,-1.1 0.9,-0.9L0.4,-0.5L0.6,-0.2L1,-0.6C1.1,-0.1 0.7,0.3 0.3,0L-0.6,1Z","size":196,"filled":true,"fill":"#ffffff","stroke":"#222222","strokeWidth":1,"opacity":1},"encoding":{"x":{"field":"i","type":"quantitative"},"y":{"field":"v","type":"quantitative"}}},
{"data":{"values":[{"i":10.14,"v":-0.2}]},"mark":{"type":"point","shape":"square","size":150,"filled":true,"fill":"#ffffff","stroke":"#222222","strokeWidth":1.3,"opacity":1},"encoding":{"x":{"field":"i","type":"quantitative"},"y":{"field":"v","type":"quantitative"}}},
{"data":{"values":[{"i":10.14,"v":-0.2}]},"mark":{"type":"point","shape":"M-1,-1H1V-0.55H-1Z","size":150,"filled":true,"fill":"#222222","opacity":1},"encoding":{"x":{"field":"i","type":"quantitative"},"y":{"field":"v","type":"quantitative"}}},
{"data":{"values":[{"i":11.79,"v":-0.2}]},"mark":{"type":"point","shape":"circle","size":150,"filled":true,"fill":"#555555","opacity":1},"encoding":{"x":{"field":"i","type":"quantitative"},"y":{"field":"v","type":"quantitative"}}},
{"data":{"values":[{"i":11.79,"v":-0.2}]},"mark":{"type":"point","shape":"cross","size":45,"angle":45,"filled":true,"fill":"#ffffff","opacity":1},"encoding":{"x":{"field":"i","type":"quantitative"},"y":{"field":"v","type":"quantitative"}}},
{"data":{"values":[{"a":120.04,"b":120.77,"p":-0.362,"q":-0.038}]},"mark":{"type":"rect","fill":"#f0f0f0","stroke":"#c0c0c0"},"encoding":{"x":{"field":"a","type":"quantitative"},"x2":{"field":"b"},"y":{"field":"p","type":"quantitative"},"y2":{"field":"q"}}},
{"data":{"values":[{"i":120.2,"v":-0.2,"t":"0"}]},"mark":{"type":"text","align":"left","baseline":"middle","fontSize":11.5,"fill":"#ee1010"},"encoding":{"x":{"field":"i","type":"quantitative"},"y":{"field":"v","type":"quantitative"},"text":{"field":"t"}}}
]}
],
"resolve":{"scale":{"y":"independent"}}}
